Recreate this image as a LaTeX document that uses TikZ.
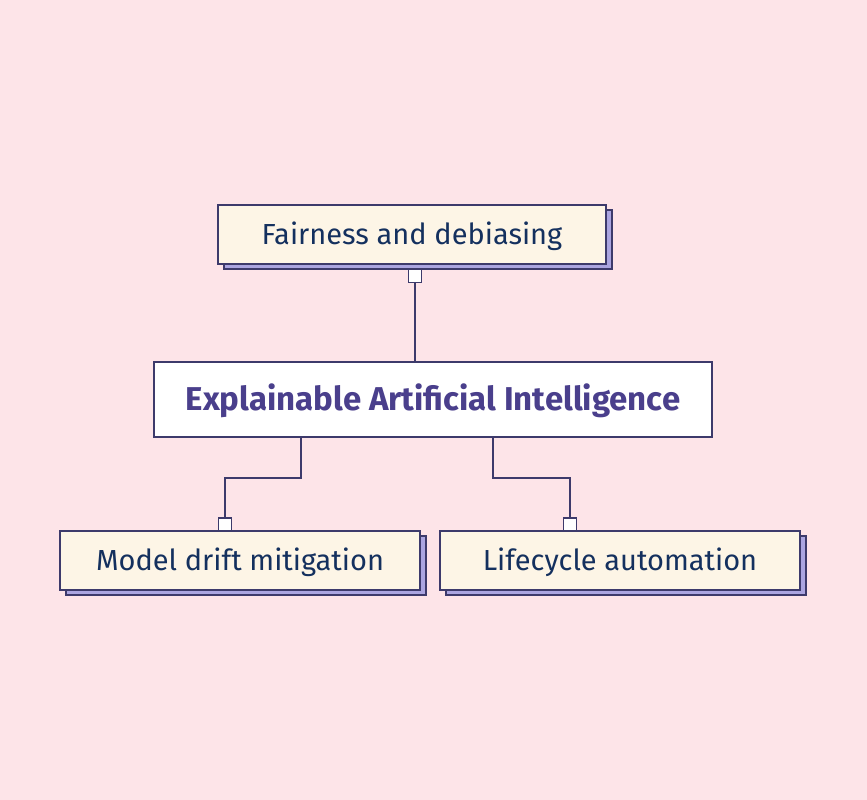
\documentclass[tikz,border=0pt]{standalone}
\usepackage{fontspec}
\setmainfont{Fira Sans}
\usetikzlibrary{shadows}
\definecolor{bg}{HTML}{FDE4E8}
\definecolor{cream}{HTML}{FDF5E6}
\definecolor{edge}{HTML}{3D3A6B}
\definecolor{shade}{HTML}{ABA5E0}
\definecolor{navy}{HTML}{14305E}
\definecolor{violet}{HTML}{4A3F8C}
\newcommand{\lowered}[2]{\raisebox{-#1}[0pt][0pt]{#2}}
\tikzset{
  leaf/.style={draw=edge, line width=1.2pt, fill=cream, text=navy, inner sep=0pt,
    minimum height=59pt, font=\fontsize{29}{34}\selectfont,
    general shadow={fill=shade, draw=edge, line width=1.2pt, shadow xshift=6pt, shadow yshift=-5pt}},
  hub/.style={draw=edge, line width=1.2pt, fill=white, text=violet, inner sep=0pt,
    minimum width=558pt, minimum height=75pt, font=\fontsize{33}{38}\selectfont\bfseries},
  port/.style={draw=edge, line width=1.2pt, fill=white, inner sep=0pt, minimum size=13pt},
  link/.style={draw=edge, line width=1.2pt}
}
\begin{document}
\begin{tikzpicture}[x=1pt,y=-1pt]
\fill[bg] (0,0) rectangle (867,800);
\useasboundingbox (0,0) rectangle (867,800);
\node[leaf, minimum width=388pt] (fair) at (412,234.5) {\lowered{10pt}{Fairness and debiasing}};
\node[hub] (xai) at (433,399.5) {\lowered{11pt}{Explainable Artificial Intelligence}};
\node[leaf, minimum width=360pt] (drift) at (240,560.5) {\lowered{10pt}{Model drift mitigation}};
\node[leaf, minimum width=360pt] (life) at (620,560.5) {\lowered{10pt}{Lifecycle automation}};
\node[port] (p1) at (415,276) {};
\node[port] (p2) at (225,524.5) {};
\node[port] (p3) at (570,524.5) {};
\draw[link] (p1.south) -- (p1.south |- xai.north);
\coordinate (a1) at (301,437);
\coordinate (a2) at (493,437);
\draw[link] (a1) -- (301,478) -| (p2.north);
\draw[link] (a2) -- (493,478) -| (p3.north);
\end{tikzpicture}
\end{document}
